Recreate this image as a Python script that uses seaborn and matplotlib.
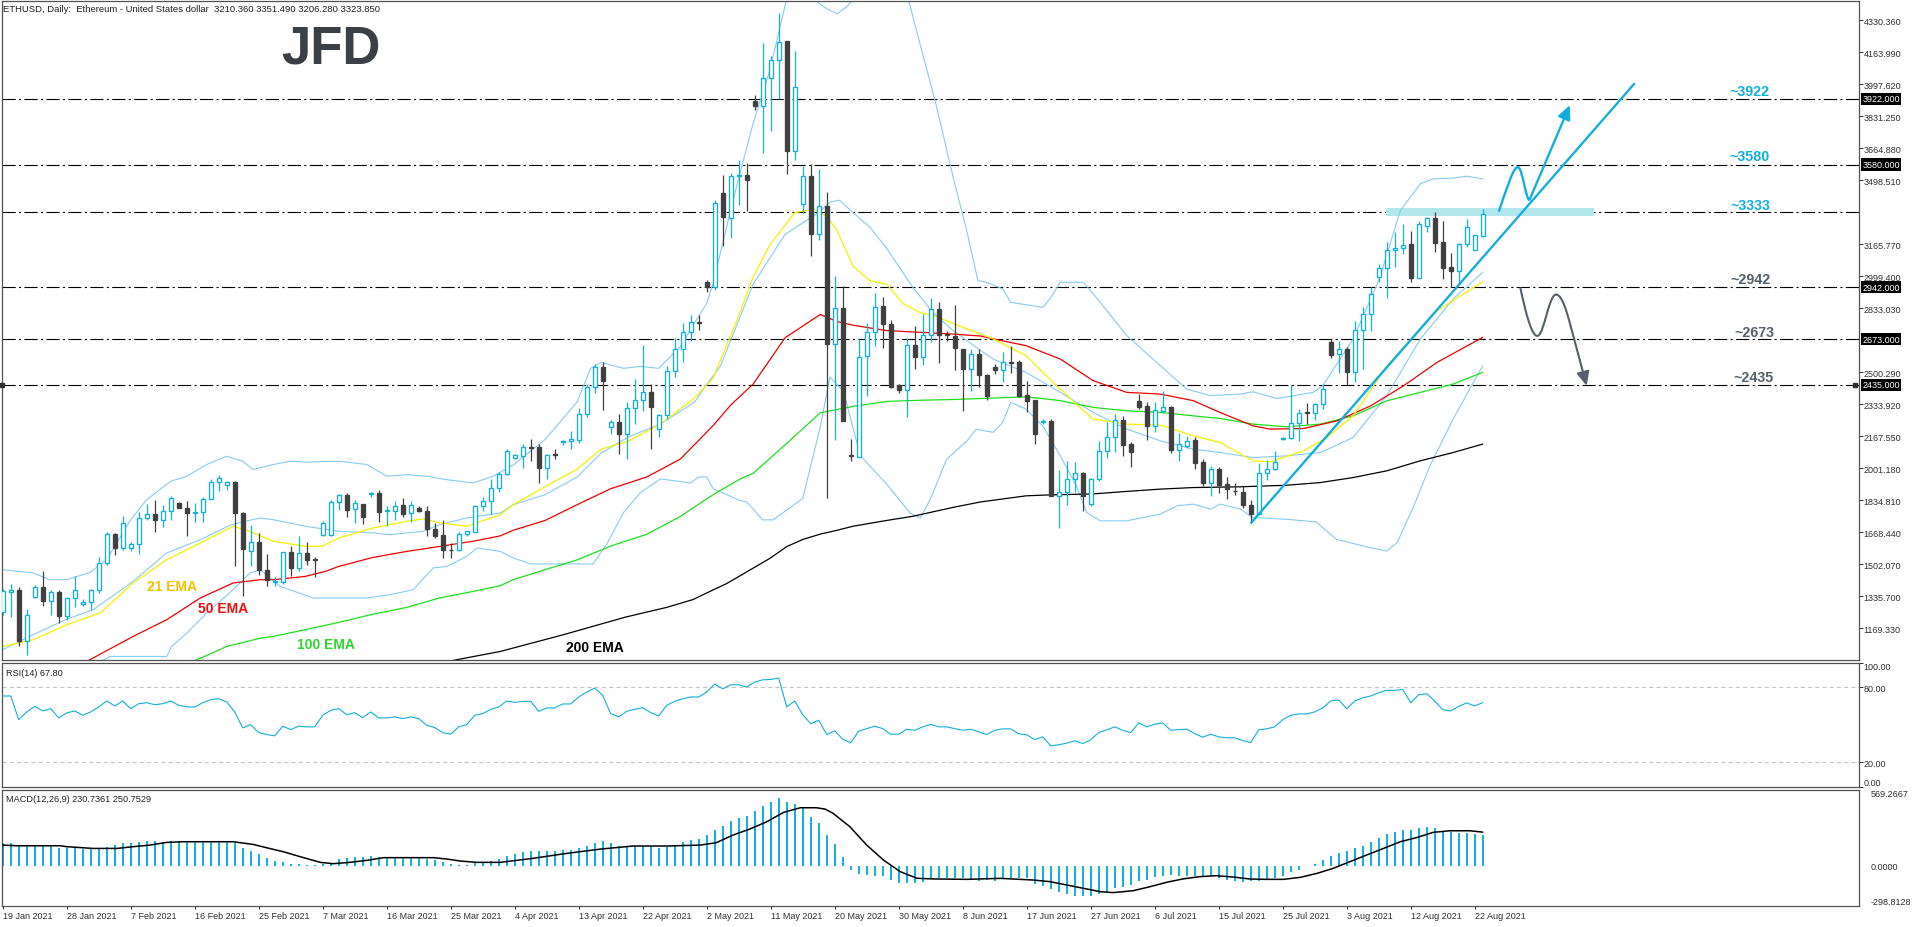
import matplotlib
matplotlib.use("Agg")
import matplotlib.pyplot as plt
import matplotlib.transforms as mtransforms
from matplotlib import font_manager
from matplotlib.patches import PathPatch, Rectangle
from matplotlib.path import Path
import numpy as np
import seaborn as sns

# ---------------- values ----------------
# one entry per daily bar (186 bars, 19 Jan 2021 .. 23 Aug 2021)
opens = [1254, 1358, 1370, 1101, 1332, 1384, 1311, 1360, 1231, 1327,
         1295, 1305, 1366, 1509, 1661, 1587, 1587, 1608, 1743, 1765,
         1733, 1779, 1821, 1797, 1771, 1774, 1842, 1930, 1915, 1932,
         1771, 1571, 1620, 1474, 1411, 1410, 1566, 1481, 1561, 1530,
         1654, 1654, 1826, 1863, 1790, 1816, 1868, 1873, 1779, 1779,
         1811, 1769, 1797, 1781, 1686, 1654, 1577, 1575, 1661, 1672,
         1804, 1832, 1901, 1973, 2055, 2065, 2110, 2114, 2001, 2073,
         2137, 2145, 2147, 2281, 2425, 2527, 2217, 2240, 2182, 2316,
         2357, 2398, 2207, 2279, 2507, 2624, 2710, 2760, 2971, 2942,
         3430, 3304, 3522, 3528, 3913, 3887, 4031, 4124, 4221, 3649,
         3376, 3521, 3218, 3367, 2647, 2832, 2069, 2062, 2585, 2712,
         2843, 2750, 2433, 2407, 2643, 2582, 2695, 2830, 2697, 2691,
         2622, 2515, 2595, 2486, 2528, 2514, 2553, 2552, 2382, 2356,
         2244, 2245, 1858, 1879, 1943, 1979, 1815, 1948, 2089, 2165,
         2254, 2125, 2351, 2323, 2222, 2300, 2321, 2098, 2118, 2148,
         2032, 1924, 2000, 1918, 1884, 1880, 1812, 1762, 1979, 2000,
         2153, 2161, 2239, 2292, 2288, 2335, 2656, 2593, 2621, 2503,
         2720, 2801, 2994, 3041, 3138, 3145, 3166, 2992, 3260, 3303,
         3176, 3046, 3029, 3166, 3136, 3210.36]
highs = [1372, 1401, 1384, 1269, 1396, 1469, 1370, 1367, 1332, 1439,
         1323, 1373, 1542, 1668, 1665, 1755, 1618, 1772, 1816, 1835,
         1812, 1859, 1828, 1833, 1821, 1851, 1946, 1967, 1936, 1935,
         1773, 1708, 1665, 1557, 1436, 1568, 1599, 1651, 1618, 1540,
         1727, 1838, 1865, 1873, 1838, 1818, 1880, 1890, 1807, 1832,
         1845, 1832, 1807, 1804, 1717, 1731, 1613, 1672, 1676, 1809,
         1852, 1945, 1980, 2104, 2075, 2129, 2151, 2129, 2075, 2100,
         2147, 2194, 2316, 2439, 2542, 2552, 2252, 2281, 2346, 2466,
         2642, 2439, 2285, 2535, 2681, 2757, 2798, 2798, 2979, 3396,
         3528, 3538, 3604, 3586, 3942, 4210, 4143, 4369, 4223, 4171,
         3571, 3584, 3558, 3436, 3001, 2947, 2151, 2674, 2754, 2910,
         2890, 2773, 2439, 2680, 2741, 2801, 2888, 2867, 2713, 2849,
         2624, 2620, 2622, 2491, 2542, 2604, 2639, 2564, 2453, 2358,
         2257, 2257, 1992, 2038, 2032, 1981, 1952, 2141, 2243, 2283,
         2275, 2136, 2387, 2344, 2344, 2401, 2323, 2183, 2167, 2162,
         2049, 2014, 2006, 1958, 1924, 1910, 1835, 2028, 2043, 2092,
         2163, 2434, 2312, 2340, 2340, 2442, 2673, 2661, 2630, 2767,
         2838, 2942, 3064, 3180, 3228, 3270, 3235, 3287, 3306, 3333,
         3287, 3121, 3173, 3298, 3216, 3351.49]
lows = [1240, 1228, 1075, 1030, 1327, 1283, 1238, 1196, 1214, 1278,
        1283, 1262, 1353, 1497, 1549, 1578, 1573, 1556, 1734, 1668,
        1694, 1731, 1793, 1647, 1720, 1724, 1840, 1882, 1890, 1491,
        1339, 1491, 1446, 1387, 1387, 1401, 1443, 1465, 1497, 1436,
        1651, 1651, 1786, 1746, 1717, 1712, 1852, 1722, 1700, 1734,
        1748, 1720, 1776, 1647, 1641, 1533, 1537, 1573, 1651, 1670,
        1779, 1763, 1878, 1965, 2051, 2001, 2038, 1923, 1946, 2049,
        2124, 2100, 2133, 2268, 2392, 2305, 2182, 2075, 2049, 2233,
        2297, 2100, 2162, 2258, 2478, 2556, 2663, 2720, 2917, 2926,
        3157, 3197, 3371, 3341, 3862, 3642, 3757, 3920, 3530, 3604,
        3330, 3107, 3190, 1848, 2147, 2245, 2040, 2060, 2379, 2639,
        2628, 2420, 2392, 2268, 2517, 2537, 2658, 2550, 2665, 2513,
        2297, 2403, 2423, 2358, 2491, 2451, 2497, 2373, 2295, 2127,
        2231, 1856, 1692, 1810, 1879, 1780, 1806, 1936, 2054, 2084,
        2066, 2009, 2309, 2150, 2188, 2287, 2080, 2040, 2108, 1997,
        1907, 1855, 1875, 1844, 1860, 1793, 1715, 1760, 1941, 1991,
        2149, 2156, 2144, 2231, 2253, 2312, 2576, 2496, 2434, 2451,
        2520, 2713, 2972, 2885, 3046, 3116, 2972, 2990, 3232, 3124,
        2984, 2942, 2959, 3150, 3134, 3206.28]
closes = [1361, 1370, 1101, 1238, 1384, 1309, 1358, 1231, 1327, 1368,
          1307, 1370, 1510, 1661, 1587, 1717, 1609, 1745, 1764, 1731,
          1779, 1847, 1795, 1767, 1774, 1844, 1930, 1951, 1929, 1769,
          1580, 1618, 1471, 1419, 1416, 1566, 1481, 1561, 1526, 1527,
          1717, 1826, 1863, 1786, 1821, 1746, 1871, 1774, 1782, 1804,
          1765, 1809, 1778, 1684, 1651, 1575, 1574, 1660, 1674, 1805,
          1832, 1901, 1970, 2092, 2069, 2114, 2107, 2001, 2069, 2070,
          2145, 2155, 2285, 2425, 2527, 2453, 2240, 2182, 2316, 2357,
          2398, 2322, 2279, 2507, 2624, 2710, 2761, 2757, 2942, 3380,
          3307, 3520, 3525, 3499, 3887, 4031, 4124, 4217, 3649, 3985,
          3521, 3218, 3367, 2647, 2832, 2247, 2066, 2582, 2712, 2841,
          2750, 2424, 2407, 2643, 2582, 2695, 2830, 2695, 2693, 2626,
          2515, 2595, 2485, 2379, 2514, 2552, 2550, 2379, 2353, 2179,
          2248, 1858, 1879, 1943, 1978, 1858, 1948, 2089, 2162, 2254,
          2122, 2084, 2321, 2222, 2302, 2318, 2096, 2125, 2141, 2030,
          1924, 2000, 1915, 1896, 1881, 1811, 1762, 1979, 2000, 2036,
          2161, 2239, 2291, 2290, 2335, 2411, 2590, 2621, 2503, 2720,
          2801, 2906, 3041, 3138, 3145, 3164, 2992, 3270, 3301, 3173,
          3044, 3029, 3166, 3254, 3213, 3323.85]

rsi = [73.1, 73.1, 54.1, 60.3, 64.8, 61.1, 62.9, 55.5, 59.5, 61.1,
       57.6, 60.3, 64.3, 69.1, 65.1, 69.1, 62.9, 66.9, 67.7, 66.1,
       66.9, 69.1, 65.6, 64.3, 64.3, 67.7, 70.1, 70.9, 68.3, 60.3,
       47.5, 50.1, 43.7, 42.1, 41.1, 48.8, 46.1, 48.8, 48.3, 48.3,
       57.6, 61.6, 62.9, 58.1, 59.7, 55.7, 60.3, 55.5, 55.5, 56.3,
       54.9, 56.3, 54.9, 49.6, 47.7, 43.7, 42.4, 48.3, 50.1, 57.6,
       58.9, 62.4, 64.3, 69.1, 68.0, 68.8, 68.8, 60.8, 63.5, 63.5,
       66.7, 66.7, 72.3, 76.3, 79.5, 73.6, 58.9, 56.3, 60.8, 62.4,
       63.7, 59.7, 57.1, 65.6, 68.8, 70.9, 72.3, 72.3, 76.3, 82.7,
       78.9, 82.1, 82.1, 80.3, 84.3, 86.1, 86.4, 87.5, 64.3, 69.1,
       58.1, 50.9, 53.6, 42.1, 45.1, 38.4, 35.5, 44.8, 46.9, 48.8,
       46.9, 42.4, 42.4, 46.4, 45.6, 48.3, 50.4, 48.3, 48.3, 46.9,
       45.6, 46.4, 44.3, 42.1, 45.6, 46.7, 46.7, 42.7, 41.9, 38.1,
       40.3, 33.1, 33.9, 35.2, 37.1, 34.9, 37.9, 43.7, 45.9, 48.3,
       45.6, 43.7, 51.5, 48.3, 50.4, 51.5, 45.6, 46.1, 46.4, 42.9,
       40.0, 42.4, 40.3, 39.5, 39.5, 37.3, 35.7, 45.9, 46.7, 48.3,
       54.1, 57.6, 58.7, 58.7, 60.3, 63.5, 69.1, 69.9, 62.9, 69.1,
       71.7, 73.1, 75.7, 77.6, 77.6, 78.4, 67.7, 74.1, 74.9, 69.1,
       62.1, 61.1, 64.8, 67.5, 65.1, 67.8]

macd_hist = [166.6, 166.6, 146.7, 146.7, 146.7, 146.7, 146.7, 129.3, 129.3, 129.3,
             121.9, 121.9, 121.9, 141.8, 154.2, 166.6, 166.6, 174.1, 184.0, 184.0,
             179.0, 186.5, 186.5, 179.0, 179.0, 179.0, 179.0, 179.0, 179.0, 166.6,
             129.3, 111.9, 84.6, 54.7, 32.3, 24.9, 9.9, 9.9, 5.0, 2.0,
             9.9, 22.4, 47.3, 54.7, 62.2, 62.2, 72.1, 62.2, 67.1, 67.1,
             54.7, 54.7, 54.7, 49.7, 39.8, 29.8, 9.9, 2.0, 5.0, 17.4,
             24.9, 34.8, 47.3, 69.6, 84.6, 99.5, 109.4, 109.4, 109.4, 109.4,
             114.4, 114.4, 129.3, 144.2, 166.6, 181.6, 166.6, 149.2, 149.2, 149.2,
             149.2, 149.2, 129.3, 139.3, 149.2, 174.1, 189.0, 196.5, 228.8, 263.6,
             293.5, 330.8, 353.2, 368.1, 405.4, 442.7, 472.5, 502.4, 472.5, 462.6,
             432.7, 360.6, 315.8, 226.3, 159.2, 62.2, -34.8, -64.7, -69.6, -74.6,
             -79.6, -106.9, -131.8, -131.8, -131.8, -119.4, -94.5, -94.5, -94.5, -94.5,
             -94.5, -106.9, -114.4, -106.9, -114.4, -98.0, -94.5, -94.5, -94.5, -139.3,
             -149.2, -174.1, -199.0, -213.9, -223.8, -223.8, -228.8, -208.9, -194.0, -164.1,
             -156.7, -144.2, -114.4, -106.9, -87.0, -74.6, -69.6, -74.6, -74.6, -79.6,
             -84.6, -79.6, -94.5, -109.4, -114.4, -124.4, -114.4, -114.4, -104.5, -94.5,
             -74.6, -49.7, -29.8, -3.0, 12.4, 39.8, 69.6, 92.0, 109.4, 129.3,
             149.2, 174.1, 203.9, 233.8, 248.7, 263.6, 268.6, 278.5, 286.0, 278.5,
             258.6, 253.7, 243.7, 243.7, 238.8, 230.74]

# signal line (vertices read at bar positions)
sig_x = [0, 1.75, 7.2, 8, 11.3, 14.3, 16.3, 18.4, 20.5, 22.6, 28.8, 31.3, 33, 35.1, 37.2,
         39.7, 41.3, 43.4, 45.5, 47.6, 49.7, 53.8, 55.5, 57.2, 59.2, 62.2, 66.3, 70.5,
         74.7, 78.8, 83, 87.2, 89.2, 91.3, 93.4, 95.5, 97.6, 99.7, 101.7, 102.8, 103.8,
         105.9, 108, 110.1, 112.2, 114.3, 116.4, 120.5, 124.7, 128.8, 130.9, 133, 135.1,
         137.2, 138.8, 141.3, 143.4, 145.5, 147.5, 149.6, 151.7, 153.8, 155.9, 158,
         160.1, 162.2, 164.3, 166.3, 168.4, 170.5, 172.6, 174.7, 176.8, 178.8, 180.9,
         183.4, 185]
sig_y = [154, 149, 149, 142, 129, 129, 142, 154, 174, 179, 179, 159, 134, 104, 67,
         25, 15, 25, 40, 60, 60, 60, 50, 35, 25, 25, 55, 92,
         124, 147, 147, 154, 172, 229, 274, 328, 398, 433, 433, 423, 391,
         291, 154, 42, -45, -94, -99, -102, -94.5, -107, -119, -144, -169,
         -194, -201, -187, -157, -124, -99, -82, -74.6, -84.6, -99.5, -102,
         -102, -87, -57, -20, 30, 80, 129, 179, 211, 249, 261,
         261, 250.75]

# moving averages / Bollinger bands (vertices read at bar positions)
ema21_x = [0, 3.8, 8, 12.2, 16.3, 20.5, 24.7, 28.8, 30.9, 33.8, 37.8, 39.9, 42, 46.3, 50.5,
           52.6, 54.6, 58, 62.2, 63.8, 67.8, 71.8, 74.8, 78.1, 82.3, 86.5, 88.8, 91.8,
           93.8, 95.9, 97.8, 99, 101.3, 103, 104.3, 106.3, 108.4, 110.5, 112.6, 114.7,
           116.7, 118.8, 123.8, 127.9, 131.3, 134.2, 136.3, 140.5, 144.7, 148.8, 152.2,
           156.3, 158.4, 162.6, 165.5, 168.8, 173, 175.1, 179.3, 185]
ema21_y = [1075, 1110, 1188, 1249, 1405, 1526, 1613, 1700, 1673, 1622, 1596, 1596, 1639, 1691, 1726,
           1738, 1717, 1700, 1760, 1812, 1905, 1997, 2100, 2141, 2233, 2367, 2470, 2773,
           2996, 3163, 3265, 3330, 3348, 3311, 3237, 3051, 2977, 2958, 2856, 2810,
           2791, 2754, 2674, 2587, 2448, 2335, 2257, 2231, 2226, 2170, 2135,
           2040, 2035, 2092, 2161, 2274, 2530, 2630, 2820, 2971]
ema50_x = [0, 10.9, 16.3, 20.5, 24.7, 28.8, 32.2, 33.8, 37.8, 40.3, 42, 46.3, 50.5, 54.6, 58.8,
           62.2, 63.8, 67.8, 71.8, 76, 80.5, 84.7, 88.8, 91, 93.8, 97.8, 102.2, 104.3,
           106.3, 110.5, 114.7, 118.8, 122.2, 123.8, 127.9, 132.2, 136.3, 140.5, 144.7,
           148.8, 152.2, 156.3, 158.4, 162.6, 166.8, 171, 175.1, 179.3, 185]
ema50_y = [780, 1006, 1127, 1214, 1327, 1405, 1422, 1422, 1439, 1465, 1491, 1538, 1569, 1595, 1622,
           1650, 1679, 1730, 1812, 1895, 1956, 2049, 2223, 2330, 2439, 2680, 2801, 2764,
           2745, 2717, 2708, 2699, 2689, 2674, 2639, 2569, 2457, 2396, 2387,
           2353, 2291, 2222, 2205, 2208, 2248, 2326, 2430, 2552, 2682]
ema100_x = [10, 24.3, 28, 32.2, 33.8, 37.8, 42, 46, 50.5, 54.6, 58.8, 62.2, 63.8, 67.8, 71.8,
            76, 80.5, 84.7, 88.8, 92.2, 93.8, 97.8, 102.2, 106.3, 110.5, 114.7, 118.8,
            122.2, 123.8, 127.9, 132.2, 136.3, 140.5, 144.7, 148.8, 152.2, 156.3, 160.5,
            164.7, 168.8, 173, 177.2, 181.3, 185]
ema100_y = [820, 1006, 1075, 1118, 1127, 1162, 1200, 1240, 1278, 1327, 1361, 1391, 1422, 1474, 1525,
            1597, 1658, 1751, 1864, 1946, 1975, 2123, 2290, 2323, 2349, 2355, 2359,
            2364, 2366, 2373, 2353, 2318, 2300, 2292, 2274, 2260, 2231, 2217,
            2231, 2274, 2352, 2396, 2439, 2500]
ema200_x = [40, 56, 62.2, 70, 77.8, 83, 86.3, 88.4, 90.5, 92.2, 95.9, 98, 100, 102.2, 104.2,
            106.3, 110.5, 113.8, 118.8, 122.2, 127.9, 130.9, 136.3, 140.5, 144.7, 148.8,
            154.7, 160.5, 164.7, 168.8, 173, 177.2, 181.3, 185]
ema200_y = [860, 1000, 1049, 1135, 1227, 1278, 1319, 1361, 1402, 1443, 1533, 1594, 1631, 1659, 1678,
            1700, 1730, 1752, 1798, 1826, 1858, 1863, 1868, 1881, 1893, 1901,
            1905, 1913, 1927, 1953, 1988, 2040, 2083, 2127]
bb_up_x = [0, 3.8, 5.9, 8, 10.9, 13, 16, 18, 21, 23, 25.5, 28, 30, 31.3, 33.8, 36, 37.8, 42,
           45.5, 48, 50.5, 53, 55.5, 58.8, 61.3, 63.8, 67.8, 71.8, 73.5, 74.8, 77.6, 79.7,
           82, 84.7, 86.8, 88, 88.8, 90.1, 91.8, 93.8, 95.9, 98, 99.5, 101.3, 103, 104.3,
           105.5, 106.3, 109.5, 113.2, 114.7, 116.7, 118.8, 120.5, 121.9, 123, 125, 126,
           130, 130.9, 132.2, 135.1, 137.2, 140.5, 144.7, 148, 151, 154.7, 156.3, 159.3,
           163.8, 165, 168.8, 172.1, 174.7, 177.2, 178.8, 181.3, 183, 185]
bb_up_y = [1474, 1457, 1422, 1422, 1460, 1526, 1734, 1838, 1934, 1960, 2021, 2064, 2038, 1995,
           2021, 2038, 2033, 2038, 2021, 1960, 1968, 1960, 1942, 1925, 1960, 2018, 2151, 2346,
           2521, 2552, 2521, 2531, 2521, 2634, 2778, 2860, 2963, 3189, 3478, 3794, 4072,
           4443, 4560, 4440, 4390, 4365, 4400, 4440, 4620, 4440, 4202, 3887, 3515, 3237,
           2977, 2968, 2934, 2864, 2838, 2882, 2968, 2968, 2864, 2691, 2535, 2413, 2379,
           2387, 2399, 2364, 2396, 2430, 2673, 2986, 3341, 3480, 3506, 3510, 3520, 3506]
bb_mid_x = [0, 3.8, 8, 11.3, 16.3, 20.5, 24.7, 28.4, 29.7, 32.2, 33.8, 37.8, 42, 46.3, 48.4,
            52.6, 54.6, 58, 62.2, 63.8, 67.8, 71.8, 74.8, 78.1, 82.3, 86.5, 88, 89.7, 93.8,
            97.8, 102, 103.4, 104.6, 106.3, 108.4, 110.5, 113.8, 116.3, 118.8, 122.2,
            123.8, 127.9, 132.2, 136.3, 140.5, 144.7, 148.8, 152.2, 156.3, 160.5, 164.7,
            168.8, 173, 177.2, 181.3, 185]
bb_mid_y = [1058, 1136, 1217, 1266, 1413, 1561, 1630, 1705, 1720, 1743, 1734, 1700, 1674, 1665,
            1656, 1674, 1708, 1743, 1769, 1812, 1864, 1956, 2080, 2162, 2233, 2346, 2438,
            2531, 2958, 3218, 3330, 3385, 3395, 3330, 3255, 3144, 2940, 2810, 2717, 2615,
            2569, 2500, 2396, 2292, 2205, 2144, 2101, 2083, 2057, 2066, 2083, 2161, 2378,
            2673, 2881, 3020]
bb_lo_x = [0, 8, 12, 13.4, 17.2, 20.5, 21.1, 23, 25.5, 28.8, 30.9, 32.2, 34.7, 38.8, 42, 45.5,
           48.4, 51.3, 53.8, 55.5, 58, 59.3, 62.2, 63.8, 66, 70.1, 73.8, 75.5, 77.6, 79.7,
           82.2, 86, 87, 88, 88.8, 92.2, 93, 95, 96.3, 100, 102.2, 103.4, 105.1, 107.2,
           110.5, 113.4, 114.7, 116, 118, 120.5, 121.7, 123.8, 125, 126, 127.9, 130, 132.2,
           134.2, 135.5, 137.2, 140.5, 144.7, 146.8, 148.8, 151, 152.2, 154.7, 156.3,
           160.5, 164.2, 166.7, 170.9, 173, 174.3, 176.4, 178.4, 181.3, 185]
bb_lo_y = [900, 930, 990, 1023, 1023, 1023, 1075, 1144, 1249, 1370, 1457, 1474, 1387, 1327,
           1327, 1327, 1344, 1370, 1483, 1491, 1543, 1587, 1569, 1535, 1504, 1504, 1504,
           1607, 1771, 1874, 1946, 1925, 1956, 1956, 1895, 1833, 1826, 1733, 1733, 1845,
           2216, 2476, 2401, 2067, 1919, 1770, 1742, 1845, 2049, 2142, 2205, 2188, 2240,
           2344, 2309, 2222, 2066, 1910, 1771, 1728, 1728, 1763, 1806, 1815, 1789, 1815,
           1789, 1745, 1736, 1722, 1632, 1589, 1571, 1615, 1806, 2014, 2257, 2534]

date_labels = ["19 Jan 2021", "28 Jan 2021", "7 Feb 2021", "16 Feb 2021", "25 Feb 2021",
               "7 Mar 2021", "16 Mar 2021", "25 Mar 2021", "4 Apr 2021", "13 Apr 2021",
               "22 Apr 2021", "2 May 2021", "11 May 2021", "20 May 2021", "30 May 2021",
               "8 Jun 2021", "17 Jun 2021", "27 Jun 2021", "6 Jul 2021", "15 Jul 2021",
               "25 Jul 2021", "3 Aug 2021", "12 Aug 2021", "22 Aug 2021"]
price_ticks = [4330.360, 4163.990, 3997.620, 3831.250, 3664.880, 3498.510, 3165.770,
               2999.400, 2833.030, 2500.290, 2333.920, 2167.550, 2001.180, 1834.810,
               1668.440, 1502.070, 1335.700, 1169.330]
levels = [3922, 3580, 3333, 2942, 2673, 2435]
level_boxes = [3922, 3580, 2942, 2673, 2435]
level_notes = ["~3922", "~3580", "~3333", "~2942", "~2673", "~2435"]

# drawn analysis objects (bar index, price)
trend_x = [156, 204]
trend_y = [1715, 4003]

CYAN = "#12afdb"
DARK = "#404040"
GRAYNOTE = "#56606a"

sns.set_theme(style="white")
plt.rcParams["font.family"] = ["Liberation Sans", "DejaVu Sans"]
plt.rcParams["lines.scale_dashes"] = False
plt.rcParams["axes.linewidth"] = 0.9

W, H = 1916, 928
fig = plt.figure(figsize=(W / 100, H / 100), dpi=100)
fig.patch.set_facecolor("white")


def rect(x0, y0, x1, y1):
    return [x0 / W, 1 - y1 / H, (x1 - x0) / W, (y1 - y0) / H]


ax = fig.add_axes(rect(2, 2, 1859, 661))
ax_rsi = fig.add_axes(rect(2, 663.5, 1859, 788), sharex=ax)
ax_macd = fig.add_axes(rect(2, 790.5, 1859, 906.7), sharex=ax)

for a in (ax, ax_rsi, ax_macd):
    a.set_facecolor("white")
    for sp in a.spines.values():
        sp.set_color("#505050")
        sp.set_linewidth(0.9)

ax.set_xlim(-0.09, 232.04)
ax.set_ylim(1004.5, 4430.7)


def line(a, xv, yv, color, lw, z):
    sns.lineplot(x=xv, y=yv, ax=a, color=color, linewidth=lw, zorder=z,
                 estimator=None, sort=False, legend=False)


# Bollinger bands and EMAs
for bx, by in ((bb_up_x, bb_up_y), (bb_mid_x, bb_mid_y), (bb_lo_x, bb_lo_y)):
    line(ax, bx, by, "#87cbf2", 0.8, 2)
line(ax, ema200_x, ema200_y, "black", 0.9, 2.2)
line(ax, ema100_x, ema100_y, "#1ee01e", 0.9, 2.2)
line(ax, ema50_x, ema50_y, "#f00000", 0.9, 2.2)
line(ax, ema21_x, ema21_y, "#f6f000", 0.9, 2.2)

# horizontal levels
for lv in levels:
    ax.axhline(lv, color="black", lw=0.8, linestyle=(0, (9.5, 2.4, 1.5, 2.4)), zorder=1.5)
ax.add_patch(Rectangle((172.9, 3314), 26, 41, facecolor="#b2e6ed", edgecolor="none", zorder=1.8))

# candles
o = np.array(opens, float)
c = np.array(closes, float)
hi = np.array(highs, float)
lo = np.array(lows, float)
xs = np.arange(len(c))
bull = c >= o
edge = [CYAN if b else DARK for b in bull]
face = ["white" if b else DARK for b in bull]
ax.vlines(xs, lo, hi, colors=edge, lw=0.9, zorder=3)
ax.bar(xs, np.maximum(np.abs(c - o), 0.8), bottom=np.minimum(o, c), width=0.5,
       color=face, edgecolor=edge, linewidth=0.95, zorder=4)

# trend line and scenario arrows
ax.plot(trend_x, trend_y, color=CYAN, lw=1.7, zorder=6, solid_capstyle="butt")
bull_path = Path([(187.0, 3335), (188.2, 3480), (188.9, 3575), (189.45, 3566),
                  (190.0, 3560), (190.5, 3370), (190.9, 3401)],
                 [Path.MOVETO, Path.CURVE4, Path.CURVE4, Path.CURVE4,
                  Path.CURVE4, Path.CURVE4, Path.CURVE4])
ax.add_patch(PathPatch(bull_path, facecolor="none", edgecolor=CYAN, lw=1.7, zorder=6))
ax.annotate("", xy=(195.9, 3890), xytext=(190.9, 3401),
            arrowprops=dict(arrowstyle="-|>,head_length=0.7,head_width=0.32", color=CYAN,
                            lw=1.7, shrinkA=0, shrinkB=0, mutation_scale=12), zorder=6)
bear_path = Path([(189.7, 2942), (190.4, 2800), (191.2, 2680), (191.9, 2690),
                  (192.7, 2700), (193.3, 2915), (194.25, 2904),
                  (194.9, 2900), (195.5, 2820), (196.0, 2740)],
                 [Path.MOVETO, Path.CURVE4, Path.CURVE4, Path.CURVE4,
                  Path.CURVE4, Path.CURVE4, Path.CURVE4,
                  Path.CURVE4, Path.CURVE4, Path.CURVE4])
ax.add_patch(PathPatch(bear_path, facecolor="none", edgecolor=GRAYNOTE, lw=1.5, zorder=6))
ax.annotate("", xy=(198.0, 2430), xytext=(196.0, 2740),
            arrowprops=dict(arrowstyle="-|>,head_length=0.7,head_width=0.32", color=GRAYNOTE,
                            lw=1.5, shrinkA=0, shrinkB=0, mutation_scale=12), zorder=6)

# level notes
note_pos = [(218.3, 3964), (218.4, 3626), (218.4, 3371), (218.5, 2985), (219.0, 2711), (218.8, 2477)]
for (nx, ny), txt, i in zip(note_pos, level_notes, range(6)):
    ax.text(nx, ny, txt, color=CYAN if i < 3 else GRAYNOTE, fontsize=10.3,
            fontweight="bold", ha="center", va="center", zorder=7)

# EMA labels
ax.text(21.1, 1388, "21 EMA", color="#f2c200", fontsize=10, fontweight="bold", ha="center", va="center")
ax.text(27.6, 1275, "50 EMA", color="#ee1111", fontsize=10, fontweight="bold", ha="center", va="center")
ax.text(40.4, 1088, "100 EMA", color="#2fd42f", fontsize=10, fontweight="bold", ha="center", va="center")
ax.text(74.0, 1074, "200 EMA", color="black", fontsize=10, fontweight="bold", ha="center", va="center")

# price axis on the right
ax.yaxis.tick_right()
ax.set_yticks(price_ticks)
ax.set_yticklabels([f"{v:.3f}" for v in price_ticks])
ax.tick_params(axis="y", right=True, left=False, labelright=True, labelleft=False,
               direction="out", length=2.6, width=0.7, pad=0.8, colors="#303030", labelsize=6.5)
ax.tick_params(axis="x", bottom=False, labelbottom=False)
btrans = mtransforms.blended_transform_factory(ax.transAxes, ax.transData)
for lv in level_boxes:
    ax.text(1.0017, lv, f"{lv:.3f}", transform=btrans, ha="left", va="center",
            fontsize=6.5, color="white", clip_on=False, zorder=10,
            bbox=dict(boxstyle="square,pad=0.18", fc="black", ec="none"))
ax.plot([-0.05], [2435], marker="s", ms=3.2, color="#303030", clip_on=False, zorder=10)
ax.plot([231.6], [2435], marker="s", ms=3.2, color="#303030", clip_on=False, zorder=10)

# title and logo
fig.text(3 / W, 1 - 10 / H, "ETHUSD, Daily:  Ethereum - United States dollar  "
         "3210.360 3351.490 3206.280 3323.850", fontsize=6.8, color="#202020",
         ha="left", va="center")
names = {f.name for f in font_manager.fontManager.ttflist}
if "Liberation Sans Narrow" in names:
    logo_family, logo_size = ["Liberation Sans Narrow"], 46
else:
    logo_family, logo_size = ["Liberation Sans"], 38
fig.text(331 / W, 1 - 50 / H, "JFD", family=logo_family, fontsize=logo_size,
         fontweight="bold", color="#3b4046", ha="center", va="center")

# RSI panel
ax_rsi.set_ylim(0, 100)
line(ax_rsi, xs, rsi, CYAN, 0.8, 3)
for lv in (80, 20):
    ax_rsi.axhline(lv, color="#c4c4c4", lw=0.8, linestyle=(0, (3.0, 2.2)), zorder=1)
ax_rsi.yaxis.tick_right()
ax_rsi.set_yticks([100, 80, 20, 0])
ax_rsi.set_yticklabels(["100.00", "80.00", "20.00", "0.00"])
ax_rsi.tick_params(axis="y", right=True, left=False, labelright=True, labelleft=False,
                   direction="out", length=2.6, width=0.7, pad=0.8, colors="#303030", labelsize=6.5)
ax_rsi.tick_params(axis="x", bottom=False, labelbottom=False)
rl = ax_rsi.get_yticklabels()
rl[0].set_va("top")
rl[-1].set_va("bottom")
ax_rsi.text(4 / 1857, 1 - 9.5 / 124.5, "RSI(14) 67.80", transform=ax_rsi.transAxes,
            fontsize=6.6, color="#202020", ha="left", va="center")

# MACD panel
ax_macd.set_ylim(-298.8128, 569.2667)
ax_macd.bar(xs, macd_hist, width=0.26, color="#14b2dd", edgecolor="none", zorder=2)
line(ax_macd, sig_x, sig_y, "black", 1.1, 3)
ax_macd.yaxis.tick_right()
ax_macd.set_yticks([569.2667, 0.0, -298.8128])
ax_macd.set_yticklabels(["569.2667", "0.0000", "-298.8128"])
ax_macd.tick_params(axis="y", right=False, left=False, labelright=True, labelleft=False,
                    pad=2.5, colors="#303030", labelsize=6.5)
ml = ax_macd.get_yticklabels()
ml[0].set_va("top")
ml[-1].set_va("bottom")
ax_macd.text(4 / 1857, 1 - 8.8 / 116.2, "MACD(12,26,9) 230.7361 250.7529",
             transform=ax_macd.transAxes, fontsize=6.6, color="#202020", ha="left", va="center")
ax_macd.set_xticks(range(0, 185, 8))
ax_macd.set_xticklabels(date_labels)
ax_macd.tick_params(axis="x", bottom=True, direction="out", length=2.4, width=0.7,
                    pad=1.2, colors="#303030", labelsize=6.5)
for t in ax_macd.get_xticklabels():
    t.set_ha("left")

for a in (ax, ax_rsi, ax_macd):
    a.set_xlabel("")
    a.set_ylabel("")
    a.grid(False)

fig.savefig("out.png", dpi=100, facecolor="white")
